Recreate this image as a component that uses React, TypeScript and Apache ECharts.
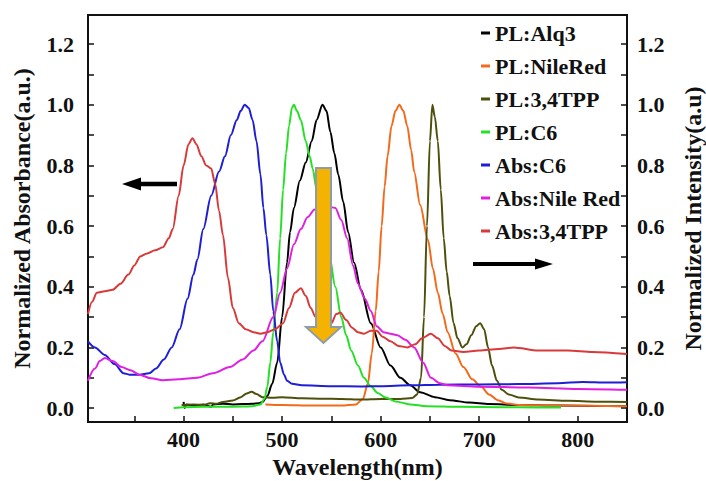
import React, { useEffect, useRef } from "react";
import * as echarts from "echarts";

const FONT = "Times New Roman, Liberation Serif, DejaVu Serif, serif";

const seriesNames = ["PL:Alq3", "PL:NileRed", "PL:3,4TPP", "PL:C6", "Abs:C6", "Abs:Nile Red", "Abs:3,4TPP"];
const seriesColors = ["#000000", "#f26a1b", "#4f4f0c", "#26e026", "#1e1ed6", "#e020e0", "#d83a3a"];

const xTickLabels = [400, 500, 600, 700, 800];
const xTicks = [350, 400, 450, 500, 550, 600, 650, 700, 750, 800, 850];
const yTickLabels = [0, 0.2, 0.4, 0.6, 0.8, 1.0, 1.2];
const yTicks = [0, 0.1, 0.2, 0.3, 0.4, 0.5, 0.6, 0.7, 0.8, 0.9, 1.0, 1.1, 1.2];

const plAlq3 = [
  [400, 0.02], [401, 0.0], [403, 0.012], [410, 0.008], [420, 0.012], [428, 0.004], [430, 0.012], [440, 0.014],
  [450, 0.012], [460, 0.013], [470, 0.014], [476, 0.016], [480, 0.02], [485, 0.04], [490, 0.08],
  [495, 0.15], [500, 0.3], [505, 0.48], [508, 0.58], [512, 0.66], [518, 0.75], [524, 0.81],
  [530, 0.88], [535, 0.95], [541, 1.0], [545, 0.98], [549, 0.91], [553, 0.84], [557, 0.77],
  [562, 0.68], [567, 0.58], [573, 0.48], [580, 0.39], [590, 0.28], [600, 0.2], [610, 0.14],
  [620, 0.1], [630, 0.075], [640, 0.052], [655, 0.036], [670, 0.026], [690, 0.018], [710, 0.013],
  [740, 0.01], [780, 0.008], [820, 0.007], [850, 0.006],
];

const plNileRed = [
  [483, 0.012], [500, 0.01], [530, 0.008], [560, 0.008], [575, 0.012], [582, 0.03], [587, 0.08],
  [591, 0.18], [595, 0.32], [598, 0.45], [601, 0.6], [604, 0.73], [607, 0.83], [611, 0.93],
  [615, 0.98], [619, 1.0], [623, 0.98], [627, 0.93], [631, 0.85], [634, 0.78], [640, 0.67],
  [648, 0.555], [653, 0.46], [658, 0.38], [663, 0.31], [668, 0.25], [676, 0.18], [684, 0.135],
  [693, 0.095], [702, 0.07], [710, 0.045], [719, 0.026], [728, 0.015], [740, 0.01], [780, 0.008],
  [850, 0.006],
];

const plTPP = [
  [398, 0.01], [410, 0.012], [420, 0.01], [427, 0.016], [433, 0.014], [440, 0.02], [450, 0.025],
  [458, 0.036], [464, 0.048], [469, 0.054], [474, 0.046], [480, 0.036], [490, 0.034], [500, 0.036],
  [520, 0.032], [540, 0.031], [560, 0.03], [580, 0.028], [600, 0.03], [620, 0.03], [632, 0.033],
  [637, 0.045], [641, 0.1], [644, 0.3], [647, 0.6], [650, 0.88], [652.5, 1.0], [655, 0.96],
  [658, 0.88], [661, 0.72], [664, 0.56], [667, 0.45], [670, 0.37], [674, 0.28], [678, 0.23],
  [683, 0.2], [687, 0.21], [692, 0.24], [697, 0.27], [701, 0.28], [705, 0.26], [709, 0.2],
  [713, 0.14], [718, 0.09], [723, 0.06], [730, 0.045], [740, 0.035], [760, 0.028], [790, 0.024],
  [820, 0.021], [850, 0.02],
];

const plC6 = [
  [390, 0.0], [400, 0.003], [420, 0.004], [440, 0.004], [460, 0.005], [470, 0.006], [478, 0.012],
  [482, 0.03], [485, 0.07], [488, 0.15], [491, 0.25], [495, 0.38], [498, 0.56], [501, 0.72],
  [504, 0.84], [507, 0.93], [510, 0.99], [512, 1.0], [515, 0.98], [519, 0.95], [524, 0.88],
  [528, 0.83], [531, 0.79], [535, 0.72], [539, 0.66], [543, 0.59], [548, 0.5], [554, 0.4],
  [560, 0.3], [565, 0.24], [570, 0.19], [577, 0.14], [583, 0.1], [590, 0.072], [597, 0.05],
  [605, 0.035], [615, 0.022], [630, 0.012], [647, 0.006], [680, 0.004], [720, 0.003],
  [760, 0.002], [783, 0.002],
];

const absC6 = [
  [303, 0.22], [310, 0.2], [320, 0.175], [330, 0.145], [339, 0.115], [345, 0.11], [355, 0.11],
  [365, 0.115], [372, 0.13], [380, 0.16], [388, 0.2], [396, 0.26], [404, 0.36], [410, 0.44],
  [414, 0.49], [420, 0.59], [428, 0.7], [436, 0.78], [442, 0.83], [448, 0.9], [454, 0.95],
  [458, 0.98], [462, 1.0], [466, 0.99], [470, 0.95], [474, 0.88], [478, 0.77], [481, 0.66],
  [484, 0.57], [488, 0.44], [491, 0.32], [495, 0.22], [498, 0.15], [502, 0.11], [505, 0.09],
  [510, 0.08], [520, 0.075], [550, 0.072], [580, 0.071], [600, 0.072], [630, 0.075], [660, 0.077],
  [700, 0.078], [740, 0.079], [780, 0.082], [805, 0.086], [830, 0.084], [850, 0.085],
];

const absNileRed = [
  [303, 0.09], [310, 0.13], [315, 0.155], [320, 0.165], [328, 0.155], [337, 0.135], [346, 0.125],
  [355, 0.11], [367, 0.098], [379, 0.092], [395, 0.095], [414, 0.1], [430, 0.115], [447, 0.135],
  [460, 0.16], [471, 0.19], [480, 0.22], [491, 0.3], [498, 0.38], [505, 0.46], [512, 0.54],
  [519, 0.59], [526, 0.63], [533, 0.655], [545, 0.665], [554, 0.66], [560, 0.62], [566, 0.56],
  [572, 0.47], [577, 0.41], [584, 0.36], [590, 0.32], [596, 0.27], [603, 0.25], [610, 0.245],
  [617, 0.24], [625, 0.225], [634, 0.2], [643, 0.15], [651, 0.1], [660, 0.082], [668, 0.075],
  [700, 0.07], [750, 0.068], [800, 0.063], [850, 0.06],
];

const absTPP = [
  [303, 0.31], [307, 0.35], [312, 0.38], [320, 0.385], [328, 0.39], [336, 0.41], [344, 0.44],
  [350, 0.47], [356, 0.5], [363, 0.51], [371, 0.52], [379, 0.53], [385, 0.56], [389, 0.59],
  [395, 0.7], [400, 0.8], [405, 0.87], [409, 0.89], [413, 0.87], [418, 0.83], [423, 0.8],
  [428, 0.79], [432, 0.74], [436, 0.65], [440, 0.57], [445, 0.43], [450, 0.33], [456, 0.28],
  [463, 0.26], [471, 0.25], [478, 0.245], [485, 0.25], [493, 0.26], [501, 0.28], [507, 0.33],
  [513, 0.38], [519, 0.395], [524, 0.37], [529, 0.33], [534, 0.3], [540, 0.26], [545, 0.255],
  [550, 0.28], [555, 0.31], [559, 0.315], [565, 0.29], [571, 0.265], [577, 0.25], [583, 0.245],
  [590, 0.255], [596, 0.255], [602, 0.235], [610, 0.22], [618, 0.205], [627, 0.2], [635, 0.21],
  [642, 0.23], [651, 0.245], [658, 0.23], [665, 0.205], [672, 0.19], [684, 0.185], [700, 0.19],
  [720, 0.195], [735, 0.2], [760, 0.19], [790, 0.19], [815, 0.185], [850, 0.178],
];

const seriesData = [plAlq3, plNileRed, plTPP, plC6, absC6, absNileRed, absTPP];
const seriesAxis = [1, 1, 1, 1, 0, 0, 0];

export default function App() {
  const ref = useRef<HTMLDivElement>(null);
  useEffect(() => {
    if (!ref.current) return;
    const chart = echarts.init(ref.current, null, { renderer: "svg" });
    const labelStyle = { fontFamily: FONT, fontWeight: "bold" as const, fontSize: 22, color: "#111" };
    const nameStyle = { fontFamily: FONT, fontWeight: "bold" as const, fontSize: 24, color: "#111" };
    const axisLine = { show: true, onZero: false, lineStyle: { color: "#111", width: 2 } };
    const yAxisBase = (position: "left" | "right", name: string, gap: number, margin: number) => ({
      type: "value",
      position,
      min: -0.046,
      max: 1.296,
      name,
      nameLocation: "middle",
      nameGap: gap,
      nameRotate: 90,
      nameTextStyle: nameStyle,
      axisLine,
      axisTick: { show: true, inside: true, length: 6, customValues: yTicks, lineStyle: { color: "#111", width: 1.5 } },
      axisLabel: { ...labelStyle, margin, customValues: yTickLabels, formatter: (v: number) => v.toFixed(1) },
      splitLine: { show: false },
    });
    chart.setOption({
      animation: false,
      backgroundColor: "#ffffff",
      textStyle: { fontFamily: FONT },
      grid: {
        left: 88, right: 79, top: 15, bottom: 59, show: true, borderColor: "#111", borderWidth: 2,
        outerBoundsMode: "none", containLabel: false,
      },
      legend: {
        data: seriesNames,
        orient: "vertical",
        left: 476,
        top: 17,
        itemWidth: 9,
        itemHeight: 3,
        itemGap: 11,
        icon: "rect",
        textStyle: { fontFamily: FONT, fontWeight: "bold", fontSize: 22, color: "#111" },
      },
      xAxis: {
        type: "value",
        min: 303,
        max: 850,
        name: "Wavelength(nm)",
        nameLocation: "middle",
        nameGap: 30,
        nameTextStyle: nameStyle,
        axisLine,
        axisTick: { show: true, inside: true, length: 6, customValues: xTicks, lineStyle: { color: "#111", width: 1.5 } },
        axisLabel: { ...labelStyle, margin: 6, customValues: xTickLabels },
        splitLine: { show: false },
      },
      yAxis: [
        yAxisBase("left", "Normalized Absorbance(a.u.)", 54, 14),
        yAxisBase("right", "Normalized Intensity(a.u)", 54, 10),
      ],
      series: seriesNames.map((name, i) => ({
        name,
        type: "line",
        yAxisIndex: seriesAxis[i],
        data: seriesData[i],
        showSymbol: false,
        smooth: 0.3,
        smoothMonotone: "x",
        lineStyle: { color: seriesColors[i], width: 2 },
        itemStyle: { color: seriesColors[i] },
      })),
      graphic: [
        {
          type: "polygon",
          z: 100,
          shape: { points: [[122, 184], [141, 177.5], [141, 181.8], [177, 181.8], [177, 186.2], [141, 186.2], [141, 190.5]] },
          style: { fill: "#000" },
        },
        {
          type: "polygon",
          z: 100,
          shape: { points: [[473, 262], [535, 262], [535, 258.5], [553, 264], [535, 269.5], [535, 266], [473, 266]] },
          style: { fill: "#000" },
        },
        {
          type: "polygon",
          z: 100,
          shape: { points: [[316, 168], [331, 168], [331, 327], [341, 327], [323.5, 343], [306, 327], [316, 327]] },
          style: { fill: "#f5b301", stroke: "#8d9cab", lineWidth: 2 },
        },
      ],
    });
    return () => chart.dispose();
  }, []);
  return (
    <div
      ref={ref}
      style={{ position: "absolute", left: 0, top: 0, width: 706, height: 481, background: "#fff" }}
    />
  );
}
